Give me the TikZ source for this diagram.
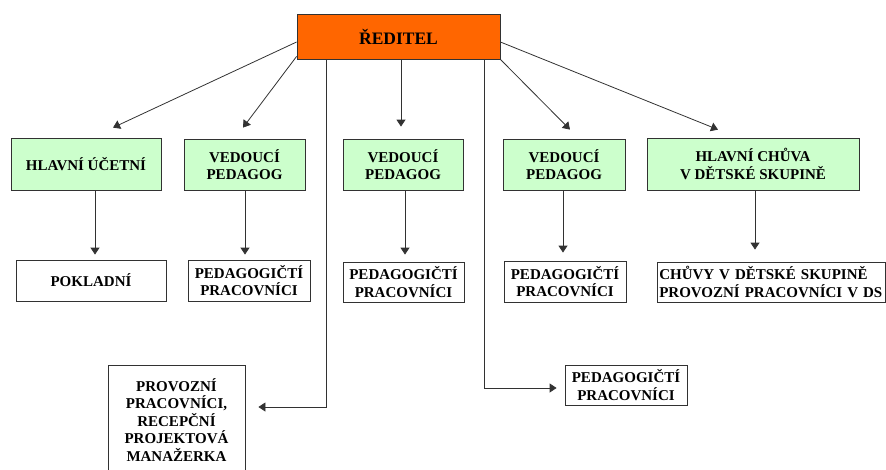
\documentclass[tikz,border=0pt]{standalone}
\usepackage{fontspec}
\setmainfont{Liberation Serif}
\usepackage{tikz}
\usetikzlibrary{arrows.meta}
\definecolor{headorange}{RGB}{255,102,0}
\definecolor{leadgreen}{RGB}{204,255,204}
\definecolor{linegray}{RGB}{50,50,50}
\tikzset{
    common/.style={draw=linegray, line width=0.8pt, rectangle, inner sep=2pt, align=center,
        font=\bfseries\fontsize{15}{17.5}\selectfont},
    head/.style={common, fill=headorange, minimum width=203pt, minimum height=45pt,
        font=\bfseries\fontsize{17.5}{20}\selectfont},
    lead/.style={common, fill=leadgreen, minimum width=121pt, minimum height=51pt},
    staff/.style={common, fill=white, minimum width=122pt, minimum height=41pt},
    link/.style={draw=linegray, line width=0.8pt, -{Triangle[length=7pt,width=9pt]}}
}
\begin{document}
\begin{tikzpicture}[x=1pt,y=-1pt]
              \useasboundingbox (0,0) rectangle (886,469);

              % top
              \node[head] (reditel) at (398.5,36.5) {ŘEDITEL};

              % second row
              \node[lead, minimum width=150pt, minimum height=52pt] (ucetni) at (86,164) {HLAVNÍ ÚČETNÍ};
              \node[lead] (ved1) at (244.5,164.5) {VEDOUCÍ\\PEDAGOG};
              \node[lead, minimum width=120pt] (ved2) at (403,164.5) {VEDOUCÍ\\PEDAGOG};
              \node[lead, minimum width=122pt] (ved3) at (564,164.5) {VEDOUCÍ\\PEDAGOG};
              \node[lead, minimum width=212pt, minimum height=52pt] (chuva) at (753,164) {HLAVNÍ CHŮVA\\V DĚTSKÉ SKUPINĚ};

              % third row
              \node[staff, minimum width=150pt] (pokl) at (91,280.5) {POKLADNÍ};
              \node[staff] (ped1) at (249,280.5) {PEDAGOGIČTÍ\\PRACOVNÍCI};
              \node[staff, minimum width=121pt, minimum height=40pt] (ped2) at (403.5,282) {PEDAGOGIČTÍ\\PRACOVNÍCI};
              \node[staff] (ped3) at (565,281.5) {PEDAGOGIČTÍ\\PRACOVNÍCI};
              \node[staff, text width=224.5pt, align=left, minimum height=40pt] (chuvy) at (771.5,282)
                  {CHŮVY V DĚTSKÉ SKUPINĚ\\PROVOZNÍ PRACOVNÍCI V DS};

              % bottom row
              \node[staff, minimum width=137pt, minimum height=110pt] (prov) at (176.5,420)
                  {PROVOZNÍ\\PRACOVNÍCI,\\RECEPČNÍ\\PROJEKTOVÁ\\MANAŽERKA};
              \node[staff, minimum height=40pt] (ped4) at (626,385) {PEDAGOGIČTÍ\\PRACOVNÍCI};

              % from the top
              \draw[link] ([yshift=-5.5pt]reditel.west) -- ([xshift=27pt,yshift=10pt]ucetni.north);
              \draw[link] ([yshift=3pt]reditel.south west) -- ([xshift=-1.5pt,yshift=11pt]ved1.north);
              \draw[link] ([xshift=2.5pt]reditel.south) -- ([xshift=-2pt,yshift=12pt]ved2.north);
              \draw[link] (reditel.south east) -- ([xshift=6pt,yshift=9pt]ved3.north);
              \draw[link] ([yshift=-5.5pt]reditel.east) -- ([xshift=-35pt,yshift=8pt]chuva.north);
              \draw[link] ([xshift=-72.5pt]reditel.south) |- ([xshift=13pt,yshift=13pt]prov.east);
              \draw[link] ([xshift=85.5pt]reditel.south) |- ([xshift=-8pt,yshift=-3pt]ped4.west);

              % second to third row
              \draw[link] ([xshift=9pt]ucetni.south) -- ([xshift=4pt,yshift=5pt]pokl.north);
              \draw[link] ([xshift=0.5pt]ved1.south) -- ([xshift=-4pt,yshift=5pt]ped1.north);
              \draw[link] ([xshift=2pt]ved2.south) -- ([xshift=1.5pt,yshift=7pt]ped2.north);
              \draw[link] ([xshift=-1pt]ved3.south) -- ([xshift=-2pt,yshift=8pt]ped3.north);
              \draw[link] ([xshift=2pt]chuva.south) -- ([xshift=-16.5pt,yshift=12pt]chuvy.north);
\end{tikzpicture}
\end{document}
